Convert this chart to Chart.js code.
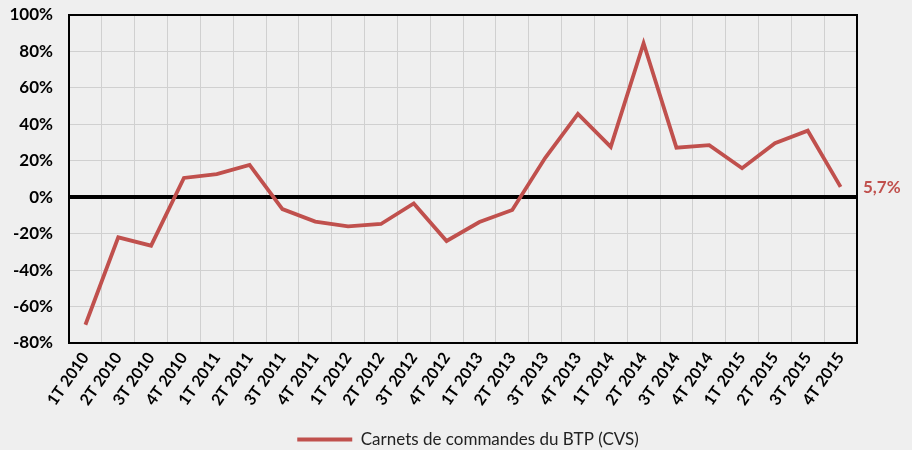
<!DOCTYPE html>
<html>
<head>
<meta charset="utf-8">
<script src="https://cdn.jsdelivr.net/npm/chart.js@4"></script>
<style>
  html, body { margin: 0; padding: 0; background: #EFEFEF; }
  #wrap { position: relative; width: 912px; height: 450px; }
  #shade { position: absolute; left: 0; top: 66px; width: 4px; height: 197px;
           background: linear-gradient(to right, #d2d2d2, #efefef); }
  canvas { position: absolute; left: 0; top: 0; }
</style>
</head>
<body>
<div id="wrap">
  <div id="shade"></div>
  <canvas id="c" width="912" height="450"></canvas>
</div>
<script>
const categories = ["1T 2010","2T 2010","3T 2010","4T 2010","1T 2011","2T 2011","3T 2011","4T 2011",
  "1T 2012","2T 2012","3T 2012","4T 2012","1T 2013","2T 2013","3T 2013","4T 2013",
  "1T 2014","2T 2014","3T 2014","4T 2014","1T 2015","2T 2015","3T 2015","4T 2015"];
const carnets = [-70, -22, -26.6, 10.6, 12.7, 17.7, -6.5, -13.4,
  -16, -14.7, -3.4, -24, -13.6, -7, 21.5, 45.7,
  27.6, 84.5, 27.2, 28.6, 15.9, 29.6, 36.5, 5.7];
const seriesName = "Carnets de commandes du BTP (CVS)";
const lastLabel = "5,7%";
const yTicks = { min: -80, max: 100, step: 20 };

const RED = '#C0504D';
const FONT = 'Lato, "Open Sans", sans-serif';

const framePlugin = {
  id: 'frame',
  beforeDraw(chart) {
    const c = chart.ctx;
    c.save();
    c.fillStyle = '#EFEFEF';
    c.fillRect(0, 0, chart.width, chart.height);
    c.restore();
  },
  afterDatasetsDraw(chart) {
    const c = chart.ctx, a = chart.chartArea;
    c.save();
    c.strokeStyle = '#000';
    c.lineWidth = 2;
    c.strokeRect(a.left, a.top, a.right - a.left, a.bottom - a.top);
    const meta = chart.getDatasetMeta(0);
    const p = meta.data[meta.data.length - 1];
    c.fillStyle = RED;
    c.font = 'bold 17px ' + FONT;
    c.textBaseline = 'middle';
    c.textAlign = 'left';
    c.fillText(lastLabel, a.right + 6, p.y + 1);
    c.restore();
  }
};

new Chart(document.getElementById('c'), {
  type: 'line',
  data: {
    labels: categories,
    datasets: [{
      label: seriesName,
      data: carnets,
      borderColor: RED,
      backgroundColor: RED,
      borderWidth: 3.8,
      pointRadius: 0,
      tension: 0
    }]
  },
  options: {
    responsive: false,
    animation: false,
    devicePixelRatio: 1,
    layout: { padding: { left: 24, right: 0, top: 15, bottom: -8 } },
    plugins: {
      tooltip: { enabled: false },
      legend: {
        position: 'bottom',
        labels: {
          usePointStyle: true,
          pointStyle: 'line',
          pointStyleWidth: 55,
          boxHeight: 4,
          color: '#222',
          font: { family: FONT, size: 17 },
          padding: 2
        }
      }
    },
    scales: {
      x: {
        offset: true,
        grid: { offset: true, color: '#D0D0D0', lineWidth: 1, drawTicks: false },
        border: { display: false },
        ticks: {
          minRotation: 55, maxRotation: 55, autoSkip: false, padding: 6,
          color: '#000',
          font: { family: FONT, size: 16, weight: 'bold' }
        },
        afterFit(s) {
          s.height = 458 - 343 - (s.chart.legend ? s.chart.legend.height : 30);
          s.paddingLeft = 0; s.paddingRight = 0;
        }
      },
      y: {
        min: yTicks.min, max: yTicks.max,
        grid: {
          color: (ctx) => ctx.tick && ctx.tick.value === 0 ? '#000' : '#D0D0D0',
          lineWidth: (ctx) => ctx.tick && ctx.tick.value === 0 ? 4 : 1,
          drawTicks: false
        },
        border: { display: false },
        ticks: {
          stepSize: yTicks.step, padding: 16, color: '#000',
          font: { family: FONT, size: 17, weight: 'bold' },
          callback: (v) => v + '%'
        },
        afterFit(s) {
          s.width = 45; s.paddingTop = 0; s.paddingBottom = 0;
          s._computeLabelArea = () => undefined;
        }
      },
      y2: {
        position: 'right',
        min: yTicks.min, max: yTicks.max,
        grid: { display: false, drawTicks: false },
        border: { display: false },
        ticks: { display: false },
        afterFit(s) { s.width = 55; s.paddingTop = 0; s.paddingBottom = 0; }
      }
    }
  },
  plugins: [framePlugin]
});
</script>
</body>
</html>
